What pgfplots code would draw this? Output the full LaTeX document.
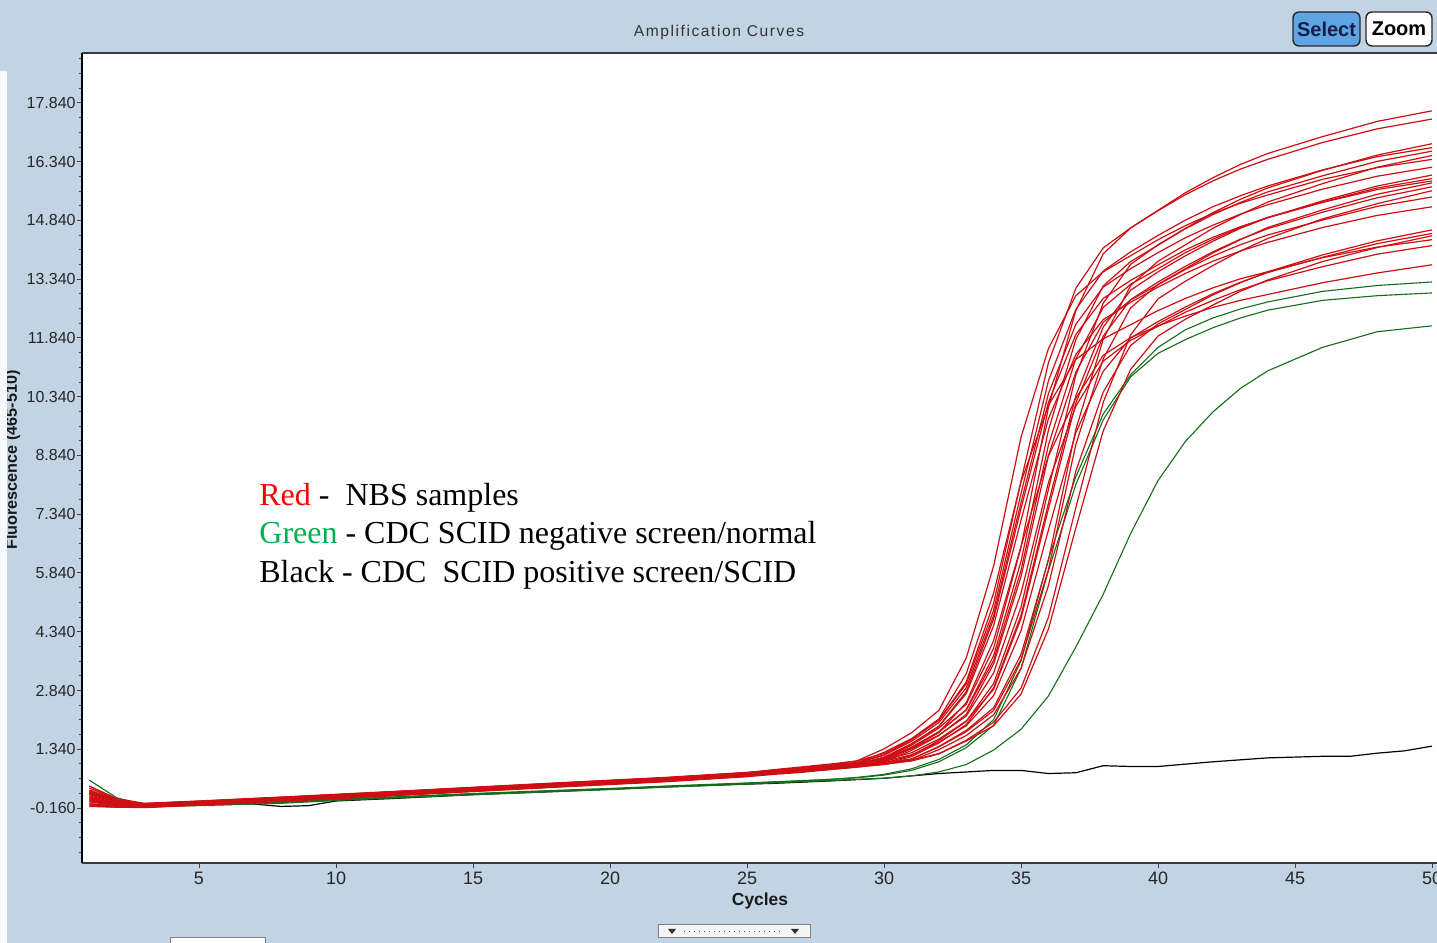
\documentclass[border=0pt]{standalone}
\usepackage{fontspec}
\setmainfont{Liberation Sans}
\newfontfamily\seriffont{Liberation Serif}
\newfontfamily\titlefont{Liberation Sans}[LetterSpace=10]
\usepackage{pgfplots}
\usepackage{pgfplotstable}
\pgfplotsset{compat=1.18}
\definecolor{bgblue}{RGB}{194,212,228}
\definecolor{selblue}{RGB}{95,165,228}
\definecolor{curvered}{RGB}{205,15,20}
\definecolor{curvegreen}{RGB}{20,110,25}
\definecolor{legred}{RGB}{255,0,0}
\definecolor{leggreen}{RGB}{0,176,80}
\definecolor{framegray}{RGB}{55,58,65}

\pgfplotstableread{
c r1 r2 r3 r4 r5 r6 r7 r8 r9 r10 r11 r12 r13 r14 r15 r16 r17 r18 r19 r20 r21 r22
1 0.35 0.10 0.00 0.25 -0.05 0.15 0.05 -0.10 0.30 0.00 0.20 0.40 -0.05 0.12 0.05 0.22 -0.08 0.18 0.08 0.28 -0.12 0.02
2 0.05 -0.05 -0.10 0.02 -0.12 -0.04 -0.08 -0.14 0.04 -0.10 -0.02 0.08 -0.12 -0.05 -0.09 0.00 -0.13 -0.01 -0.08 0.03 -0.14 -0.07
3 -0.07 -0.10 -0.13 -0.05 -0.12 -0.10 -0.08 -0.15 -0.06 -0.14 -0.09 -0.04 -0.13 -0.10 -0.12 -0.07 -0.11 -0.05 -0.14 -0.08 -0.10 -0.07
5 -0.01 -0.04 -0.07 0.01 -0.06 -0.04 -0.02 -0.09 0.00 -0.08 -0.03 0.02 -0.07 -0.04 -0.06 -0.01 -0.05 0.01 -0.08 -0.02 -0.04 -0.01
8 0.09 0.06 0.03 0.11 0.04 0.06 0.08 0.01 0.10 0.02 0.07 0.12 0.03 0.06 0.04 0.09 0.05 0.11 0.02 0.08 0.06 0.09
10 0.16 0.13 0.10 0.18 0.11 0.13 0.15 0.08 0.17 0.09 0.14 0.19 0.10 0.13 0.11 0.16 0.12 0.18 0.09 0.15 0.13 0.16
12 0.23 0.20 0.17 0.25 0.18 0.20 0.22 0.15 0.24 0.16 0.21 0.26 0.17 0.20 0.18 0.23 0.19 0.25 0.16 0.22 0.20 0.23
15 0.34 0.31 0.28 0.36 0.29 0.31 0.33 0.26 0.35 0.27 0.32 0.37 0.28 0.31 0.29 0.34 0.30 0.36 0.27 0.33 0.31 0.34
18 0.45 0.42 0.39 0.47 0.40 0.42 0.44 0.37 0.46 0.38 0.43 0.48 0.39 0.42 0.40 0.45 0.41 0.47 0.38 0.44 0.42 0.45
20 0.52 0.49 0.46 0.54 0.47 0.49 0.51 0.44 0.53 0.45 0.50 0.55 0.46 0.49 0.47 0.52 0.48 0.54 0.45 0.51 0.49 0.52
22 0.59 0.56 0.53 0.61 0.54 0.56 0.58 0.51 0.60 0.52 0.57 0.62 0.53 0.56 0.54 0.59 0.55 0.61 0.52 0.58 0.56 0.59
25 0.72 0.69 0.66 0.74 0.67 0.69 0.71 0.64 0.73 0.65 0.70 0.75 0.66 0.69 0.67 0.72 0.68 0.74 0.65 0.71 0.69 0.72
26 0.79 0.77 0.73 0.82 0.74 0.75 0.80 0.70 0.80 0.73 0.76 0.81 0.73 0.77 0.73 0.78 0.76 0.80 0.72 0.79 0.74 0.77
27 0.85 0.84 0.77 0.89 0.79 0.79 0.87 0.75 0.85 0.79 0.80 0.86 0.78 0.83 0.77 0.83 0.83 0.86 0.78 0.85 0.79 0.81
28 0.93 0.91 0.84 0.96 0.87 0.85 0.94 0.82 0.92 0.86 0.85 0.92 0.85 0.89 0.82 0.89 0.89 0.92 0.84 0.92 0.83 0.86
29 0.99 0.99 0.91 1.04 0.93 0.92 1.04 0.88 0.99 0.94 0.93 0.99 0.91 0.97 0.89 0.95 0.99 0.98 0.91 1.00 0.90 0.92
30 1.10 1.19 0.99 1.23 1.04 0.99 1.35 0.96 1.09 1.12 0.99 1.07 1.01 1.14 0.95 1.03 1.26 1.08 1.07 1.19 0.96 0.99
31 1.44 1.58 1.18 1.60 1.36 1.09 1.76 1.15 1.39 1.47 1.09 1.25 1.31 1.48 1.05 1.20 1.61 1.35 1.38 1.54 1.04 1.06
32 1.88 2.08 1.56 2.08 1.77 1.41 2.33 1.50 1.79 1.93 1.40 1.60 1.69 1.92 1.33 1.52 2.11 1.70 1.77 2.02 1.22 1.23
33 2.49 3.06 2.05 3.01 2.35 1.82 3.67 1.97 2.34 2.81 1.79 2.06 2.23 2.76 1.69 1.94 3.27 2.19 2.53 2.91 1.57 1.55
34 3.92 5.07 3.02 4.89 3.73 2.40 6.02 2.91 3.61 4.67 2.33 2.87 3.52 4.50 2.22 2.71 5.33 3.29 4.12 4.76 2.03 1.94
35 6.50 8.19 4.97 7.87 6.14 3.76 9.31 4.76 5.91 7.49 3.63 4.68 5.75 7.19 3.41 4.37 8.17 5.33 6.52 7.64 2.90 2.75
36 10.07 11.21 7.98 10.75 9.49 6.17 11.57 7.62 9.11 10.20 5.93 7.48 8.84 9.78 5.52 6.94 10.12 8.15 8.83 10.42 4.71 4.41
37 12.54 13.11 10.89 12.57 11.80 9.51 12.92 10.37 11.31 11.93 9.12 10.18 10.97 11.42 8.44 9.42 11.29 10.10 10.30 12.19 7.51 6.99
38 13.99 14.14 12.73 13.55 13.17 11.81 13.53 12.12 12.62 12.85 11.31 11.89 12.24 12.31 10.46 10.99 11.82 11.25 11.40 13.14 10.20 9.47
39 14.65 14.65 13.72 14.04 13.79 13.18 13.94 13.06 13.21 13.31 12.61 12.82 12.81 12.75 11.65 11.84 12.18 11.78 11.85 13.61 11.92 11.04
40 15.10 15.09 14.22 14.46 14.21 13.80 14.35 13.53 13.61 13.71 13.21 13.27 13.20 13.14 12.20 12.26 12.54 12.14 12.15 14.02 12.84 11.89
41 15.55 15.50 14.64 14.85 14.63 14.22 14.71 13.94 14.02 14.09 13.61 13.67 13.59 13.49 12.57 12.63 12.85 12.50 12.40 14.40 13.29 12.32
42 15.93 15.85 15.04 15.19 14.99 14.64 15.02 14.31 14.36 14.41 14.01 14.04 13.93 13.80 12.94 12.97 13.12 12.80 12.62 14.72 13.69 12.68
43 16.27 16.15 15.38 15.47 15.30 14.99 15.28 14.64 14.66 14.68 14.35 14.36 14.22 14.06 13.25 13.26 13.35 13.07 12.80 15.00 14.06 13.03
44 16.55 16.40 15.67 15.72 15.57 15.31 15.49 14.91 14.92 14.91 14.66 14.63 14.47 14.28 13.53 13.51 13.53 13.30 12.95 15.24 14.38 13.32
46 16.98 16.83 16.12 16.13 15.98 15.78 15.89 15.34 15.31 15.30 15.11 15.05 14.85 14.66 13.96 13.90 13.89 13.66 13.25 15.64 14.88 13.79
48 17.37 17.18 16.51 16.47 16.35 16.20 16.19 15.72 15.67 15.63 15.51 15.42 15.20 14.97 14.32 14.25 14.16 13.98 13.50 15.97 15.27 14.15
50 17.64 17.43 16.80 16.70 16.61 16.50 16.40 16.00 15.91 15.85 15.80 15.70 15.44 15.19 14.60 14.51 14.35 14.20 13.71 16.20 15.60 14.45
}\redtab

\pgfplotstableread{
c g1 g2 g3
1 0.55 0.40 0.25
2 0.10 0.05 0.00
3 -0.08 -0.10 -0.12
5 -0.08 -0.06 -0.10
8 -0.02 0.00 -0.04
10 0.05 0.06 0.03
12 0.11 0.12 0.09
15 0.20 0.21 0.18
18 0.28 0.29 0.26
20 0.33 0.34 0.31
22 0.39 0.40 0.37
25 0.47 0.48 0.45
26 0.50 0.51 0.48
27 0.53 0.54 0.51
28 0.57 0.57 0.54
29 0.62 0.61 0.57
30 0.70 0.68 0.60
31 0.84 0.80 0.66
32 1.08 1.02 0.76
33 1.45 1.38 0.95
34 2.10 1.95 1.32
35 3.60 3.40 1.85
36 6.20 5.90 2.70
37 8.30 8.10 3.95
38 9.90 9.75 5.30
39 10.90 10.85 6.85
40 11.60 11.45 8.20
41 12.05 11.80 9.20
42 12.35 12.10 9.95
43 12.58 12.35 10.55
44 12.76 12.55 11.00
46 13.03 12.80 11.60
48 13.18 12.92 12.00
50 13.27 12.99 12.15
}\greentab

\pgfplotstableread{
c k
1 0.20
2 0.00
3 -0.08
5 -0.08
7 -0.06
8 -0.12
9 -0.10
10 0.02
12 0.08
15 0.18
18 0.26
20 0.32
22 0.38
25 0.45
26 0.47
28 0.53
30 0.60
32 0.72
34 0.80
35 0.80
36 0.72
37 0.74
38 0.92
39 0.90
40 0.90
42 1.02
44 1.12
46 1.16
47 1.16
48 1.24
49 1.30
50 1.42
}\blacktab

\begin{document}
\begin{tikzpicture}
\useasboundingbox (0,0) rectangle (718.5pt,471.5pt);
\clip (0,0) rectangle (718.5pt,471.5pt);
\fill[bgblue] (0,0) rectangle (718.5pt,471.5pt);
% y axis label (partly hidden at the left edge)
\node[rotate=90,anchor=base,inner sep=0pt,font=\bfseries\fontsize{8.1}{9}\selectfont,text=black!90] at (8.5pt,241.5pt) {Fluorescence (465-510)};
\fill[white!85!bgblue] (0,0) rectangle (3.5pt,436pt);
% title
\node[anchor=base,inner sep=0pt,font=\titlefont\fontsize{7.8}{9}\selectfont,text=black!80] at (359.5pt,453pt) {Amplification Curves};
% buttons
\draw[rounded corners=3pt,fill=selblue,draw=black!85,line width=0.7pt] (646.5pt,448.5pt) rectangle (680pt,465.5pt);
\node[inner sep=0pt,font=\bfseries\fontsize{10}{11}\selectfont,text={rgb,255:red,20;green,30;blue,70}] at (663.25pt,457pt) {Select};
\draw[rounded corners=3pt,fill=white,draw=black!85,line width=0.7pt] (683pt,448.5pt) rectangle (716pt,465.5pt);
\node[inner sep=0pt,font=\bfseries\fontsize{10}{11}\selectfont,text=black] at (699.5pt,457pt) {Zoom};

\begin{axis}[
  at={(41pt,40pt)}, anchor=south west,
  scale only axis, width=677.5pt, height=405pt,
  xmin=0.73, xmax=50.18, ymin=-1.564, ymax=19.116,
  axis line style={draw=none},
  axis background/.style={fill=white},
  no markers,
  xtick={5,10,...,50},
  xticklabels={5,10,15,20,25,30,35,40,45,50},
  ytick={-0.16,1.34,2.84,4.34,5.84,7.34,8.84,10.34,11.84,13.34,14.84,16.34,17.84},
  yticklabels={-0.160,1.340,2.840,4.340,5.840,7.340,8.840,10.340,11.840,13.340,14.840,16.340,17.840},
  minor ytick={-1.285,-0.91,...,19.0},
  tick align=outside, xtick pos=bottom, ytick pos=left,
  major tick length=2.5pt, minor tick length=1.6pt,
  tick style={black!75,line width=0.5pt},
  yticklabel style={font=\fontsize{8}{9}\selectfont,inner sep=0pt,xshift=-0.5pt,text=black!85},
  xticklabel style={font=\fontsize{9}{10}\selectfont,inner sep=0pt,yshift=-2pt,text=black!85},
]
\addplot[black,line width=0.6pt] table[x=c,y=k]{\blacktab};
\pgfplotsinvokeforeach{1,2,3}{\addplot[curvegreen,line width=0.55pt] table[x=c,y=g#1]{\greentab};}
\pgfplotsinvokeforeach{1,...,22}{\addplot[curvered,line width=0.6pt,line join=round] table[x=c,y=r#1]{\redtab};}
\end{axis}
% frame
\draw[black,line width=1pt] (41pt,40pt) -- (41pt,445pt);
\draw[framegray,line width=1pt] (41pt,445pt) -- (718.5pt,445pt);
\draw[framegray,line width=1pt] (41pt,40pt) -- (718.5pt,40pt);
% legend text
\begin{scope}[every node/.style={anchor=base west,inner sep=0pt,font=\seriffont\fontsize{16}{19}\selectfont}]
\node at (129.5pt,218.5pt) {\textcolor{legred}{Red} -\ \ NBS samples};
\node at (129.5pt,199.5pt) {\textcolor{leggreen}{Green} - CDC SCID negative screen/normal};
\node at (129.5pt,180pt) {Black - CDC\ \ SCID positive screen/SCID};
\end{scope}
% x label
\node[anchor=base,inner sep=0pt,font=\bfseries\fontsize{8.7}{10}\selectfont,text=black!90] at (380pt,18.5pt) {Cycles};
% bottom widgets
\draw[fill=white!92!gray,draw=gray,line width=0.5pt] (329pt,2.5pt) rectangle (405pt,9pt);
\fill[black!80] (334pt,7pt) -- (338pt,7pt) -- (336pt,4.5pt) -- cycle;
\fill[black!80] (395.5pt,7pt) -- (399.5pt,7pt) -- (397.5pt,4.5pt) -- cycle;
\draw[black!70,dotted,line width=0.5pt] (342pt,5.75pt) -- (392pt,5.75pt);
\draw[fill=white,draw=gray,line width=0.5pt] (85pt,-2pt) rectangle (132.5pt,2.5pt);
\end{tikzpicture}
\end{document}
